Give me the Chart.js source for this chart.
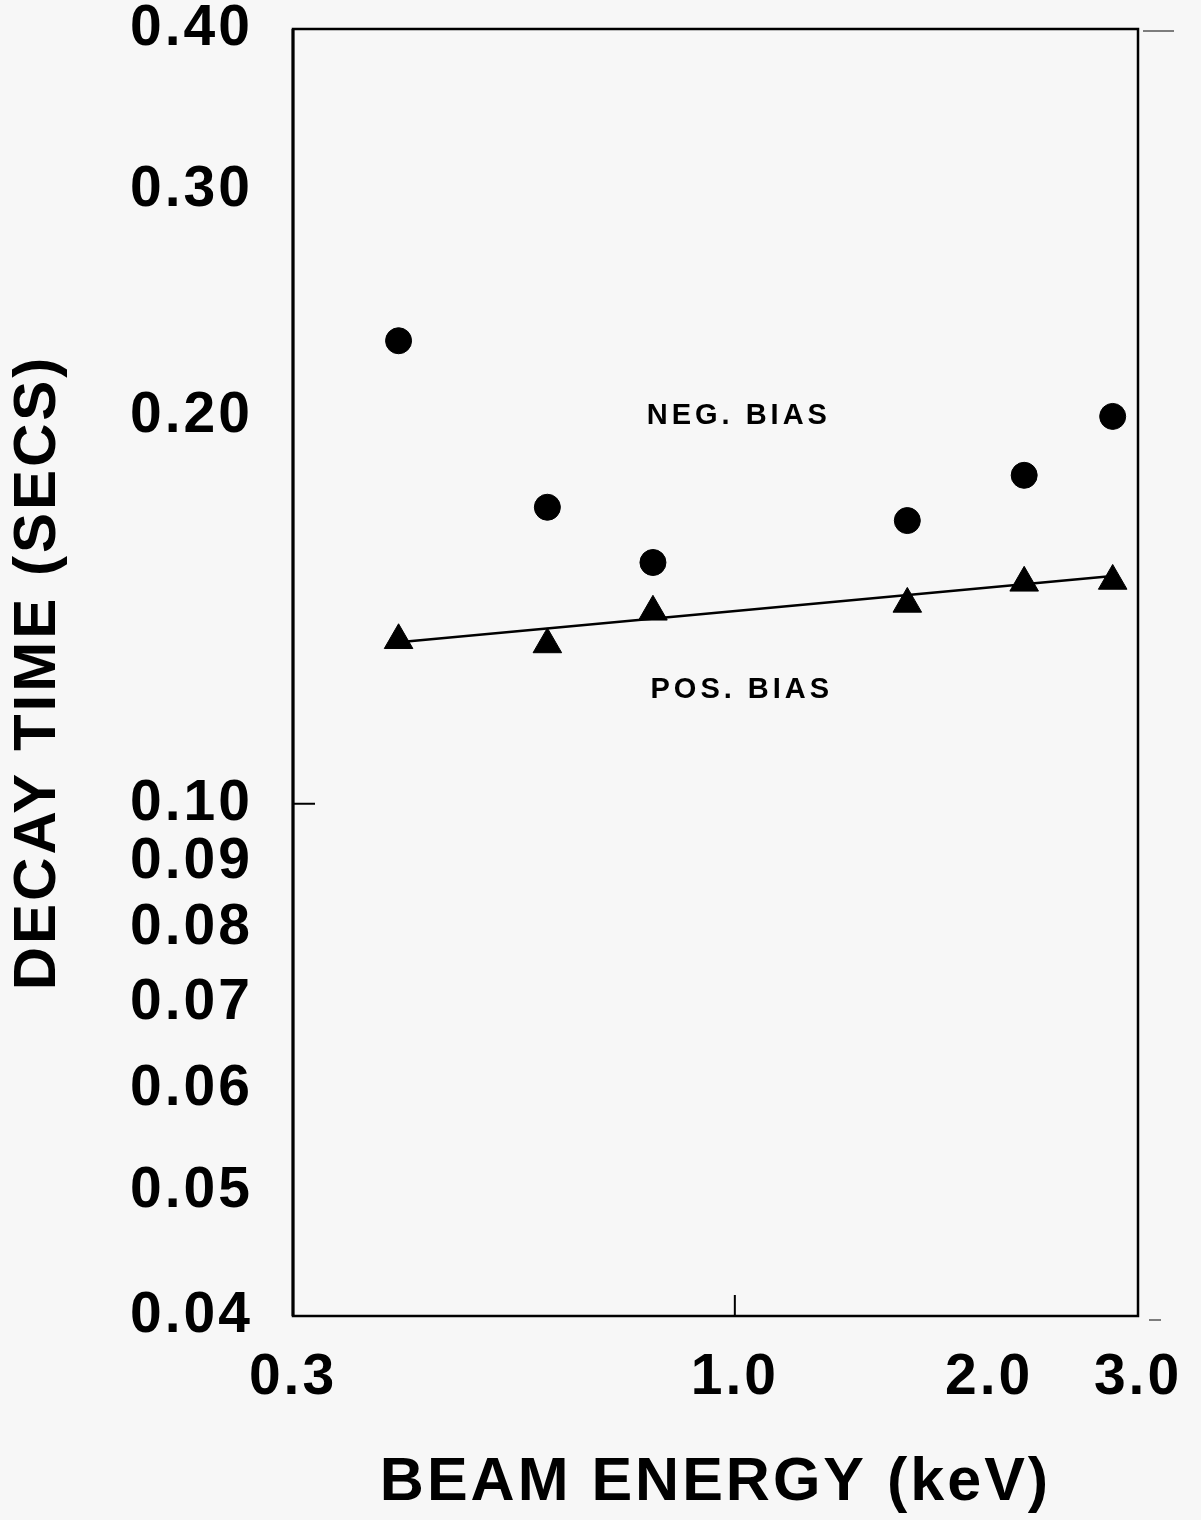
<!DOCTYPE html>
<html>
<head>
<meta charset="utf-8">
<script src="https://cdn.jsdelivr.net/npm/chart.js@4/dist/chart.umd.min.js"></script>
<style>
  html, body { margin: 0; padding: 0; background: #f7f7f7; }
  #wrap { width: 1201px; height: 1520px; }
</style>
</head>
<body>
<div id="wrap"><canvas id="chart"></canvas></div>
<script>
// beam energy (keV) of each run
const energy = [0.40, 0.60, 0.80, 1.6, 2.2, 2.8];
// decay times (secs)
const negBias = [0.229, 0.170, 0.154, 0.166, 0.180, 0.200];
const posBias = [0.134, 0.133, 0.141, 0.143, 0.1485, 0.149];
// straight fit through the positive bias points
const fitEnergy = [0.40, 2.8];
const fitDecay = [0.1335, 0.1503];

const xTicks = [0.3, 1.0, 2.0, 3.0];
const yTicks = [0.04, 0.05, 0.06, 0.07, 0.08, 0.09, 0.10, 0.20, 0.30, 0.40];

const FONT = "'Liberation Sans', Arial, Helvetica, sans-serif";
const INK = '#000';

const toPts = (xs, ys) => xs.map((x, i) => ({ x: x, y: ys[i] }));

const framePlugin = {
	id: 'frame',
	beforeDraw(chart) {
		const c = chart.ctx;
		c.save();
		c.fillStyle = '#f7f7f7';
		c.fillRect(0, 0, chart.width, chart.height);
		c.restore();
		c.letterSpacing = '3px';
	},
	afterDatasetsDraw(chart) {
		const c = chart.ctx;
		const a = chart.chartArea;
		const xs = chart.scales.x, ys = chart.scales.y;
		c.save();
		c.strokeStyle = INK;
		c.lineWidth = 2.5;
		c.strokeRect(a.left, a.top, a.right - a.left, a.bottom - a.top);
		// left border a little heavier
		c.lineWidth = 3;
		c.beginPath();
		c.moveTo(a.left, a.top);
		c.lineTo(a.left, a.bottom);
		c.stroke();

		// inner tick marks at 0.10 and 1.0
		c.lineWidth = 2;
		const y10 = ys.getPixelForValue(0.10);
		c.beginPath();
		c.moveTo(a.left, y10);
		c.lineTo(a.left + 22, y10);
		const x1 = xs.getPixelForValue(1.0);
		c.moveTo(x1, a.bottom);
		c.lineTo(x1, a.bottom - 21);
		c.stroke();

		// faint stubs outside the right edge
		c.strokeStyle = '#555';
		c.lineWidth = 1.5;
		c.beginPath();
		c.moveTo(a.right + 5, ys.getPixelForValue(0.40) + 2);
		c.lineTo(a.right + 36, ys.getPixelForValue(0.40) + 2);
		c.moveTo(a.right + 11, ys.getPixelForValue(0.04) + 4);
		c.lineTo(a.right + 23, ys.getPixelForValue(0.04) + 4);
		c.stroke();

		// labels for the two series
		c.fillStyle = INK;
		c.font = 'bold 29px ' + FONT;
		c.letterSpacing = '4px';
		c.textAlign = 'center';
		c.textBaseline = 'middle';
		c.fillText('NEG. BIAS', xs.getPixelForValue(1.0) + 4, ys.getPixelForValue(0.2));
		c.fillText('POS. BIAS', xs.getPixelForValue(1.0) + 7, ys.getPixelForValue(0.1225));
		c.restore();
	},
	afterDraw(chart) {
		chart.ctx.letterSpacing = '0px';
	}
};

new Chart(document.getElementById('chart'), {
	type: 'scatter',
	data: {
		datasets: [
			{
				label: 'NEG. BIAS',
				data: toPts(energy, negBias),
				pointStyle: 'circle',
				pointRadius: 13,
				borderWidth: 1,
				backgroundColor: INK,
				borderColor: INK,
			},
			{
				label: 'POS. BIAS',
				data: toPts(energy, posBias),
				pointStyle: 'triangle',
				pointRadius: 16.5,
				borderWidth: 1,
				backgroundColor: INK,
				borderColor: INK,
			},
			{
				type: 'line',
				label: 'fit',
				data: toPts(fitEnergy, fitDecay),
				showLine: true,
				pointRadius: 0,
				borderWidth: 2.5,
				borderColor: INK,
				fill: false,
			},
		]
	},
	options: {
		responsive: true,
		maintainAspectRatio: false,
		animation: false,
		devicePixelRatio: 1,
		layout: { padding: { top: 29, right: 63, left: 0, bottom: 0 } },
		plugins: {
			legend: { display: false },
			tooltip: { enabled: false },
		},
		scales: {
			x: {
				type: 'logarithmic',
				min: 0.3,
				max: 3.0,
				bounds: 'data',
				border: { display: false },
				grid: { display: false, drawTicks: false },
				afterBuildTicks: (s) => { s.ticks = xTicks.map((v) => ({ value: v })); },
				afterFit: (s) => {
					s.height = 204;
					s.paddingLeft = 0;
					s.paddingRight = 0;
				},
				ticks: {
					autoSkip: false,
					maxRotation: 0,
					padding: 28,
					color: INK,
					font: { family: FONT, size: 57, weight: 'bold' },
					callback: (v) => Number(v).toFixed(1),
				},
				title: {
					display: true,
					text: 'BEAM ENERGY (keV)',
					color: INK,
					padding: { top: 0, bottom: 0 },
					font: { family: FONT, size: 61, weight: 'bold' },
				},
			},
			y: {
				type: 'logarithmic',
				min: 0.04,
				max: 0.40,
				bounds: 'data',
				border: { display: false },
				grid: { display: false, drawTicks: false },
				afterBuildTicks: (s) => { s.ticks = yTicks.map((v) => ({ value: v })); },
				afterFit: (s) => {
					s.width = 293;
					s.paddingTop = 0;
					s.paddingBottom = 0;
				},
				ticks: {
					autoSkip: false,
					padding: 40,
					color: INK,
					font: { family: FONT, size: 57, weight: 'bold' },
					callback: (v) => Number(v).toFixed(2),
				},
				title: {
					display: true,
					text: 'DECAY TIME (SECS)',
					color: INK,
					padding: { top: 2, bottom: 0 },
					font: { family: FONT, size: 60, weight: 'bold' },
				},
			},
		}
	},
	plugins: [framePlugin]
});
</script>
</body>
</html>
